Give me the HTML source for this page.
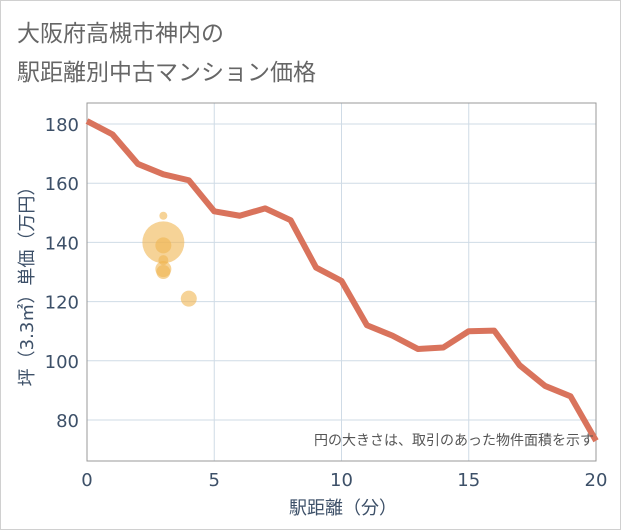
<!DOCTYPE html>
<html><head><meta charset="utf-8"><style>
body{margin:0;background:#fff;font-family:"DejaVu Sans","Noto Sans CJK JP",sans-serif;}
#wrap{position:relative;width:619px;height:528px;border:1px solid #d0d0d0;background:#fff;}
.title{position:absolute;left:16px;font-size:23px;color:#666;font-family:"Liberation Sans","Noto Sans CJK JP",sans-serif;}
</style></head><body>
<div id="wrap">
<div class="title" style="top:13px">大阪府高槻市神内の</div>
<div class="title" style="top:52px">駅距離別中古マンション価格</div>
<svg id="chart" width="621" height="530" style="position:absolute;left:-1px;top:-1px"></svg>
</div>
<script>
const lineX=[0,1,2,3,4,5,6,7,8,9,10,11,12,13,14,15,16,17,18,19,20];
const lineY=[181,176.5,166.5,163,161,150.5,149,151.5,147.5,131.5,127,112,108.5,104,104.5,110,110.2,98.5,91.5,88,73];
const bubbleX=[3,3,3,3,3,3,4];
const bubbleY=[149,140,139,134,131,130,121];
const bubbleR=[4,21,8,5,8,7,8];
const xTicks=[0,5,10,15,20];
const yTicks=[80,100,120,140,160,180];
const L=87,R=596,T=103,B=461;
const sx=v=>L+v*(R-L)/20;
const sy=v=>124+(180-v)*(420-124)/100;
const svg=document.getElementById('chart');
const NS='http://www.w3.org/2000/svg';
function mk(t,a){const e=document.createElementNS(NS,t);for(const k in a)e.setAttribute(k,a[k]);svg.appendChild(e);return e;}
yTicks.forEach(v=>{
 const g=mk('line',{x1:L,x2:R,y1:sy(v),y2:sy(v),stroke:'#cfdbe6','stroke-width':1});
 
 
 const t=mk('text',{x:L-8,y:sy(v)+7,'text-anchor':'end','font-size':18,fill:'#3d5068'});
 t.textContent=v;
 
 
});
xTicks.forEach(v=>{
 const g=mk('line',{x1:sx(v),x2:sx(v),y1:T,y2:B,stroke:'#cfdbe6','stroke-width':1});
 
 
 const t=mk('text',{x:sx(v),y:B+25,'text-anchor':'middle','font-size':18,fill:'#3d5068'});
 t.textContent=v;
 
 
});
const fr=mk('rect',{x:L,y:T,width:R-L,height:B-T,fill:'none',stroke:'#999','stroke-width':1});


bubbleX.forEach((x,i)=>{
 const c=mk('circle',{cx:sx(x),cy:sy(bubbleY[i]),r:bubbleR[i],fill:'#f0b552','fill-opacity':0.6});
 
 
});
const p=mk('polyline',{points:lineX.map((x,i)=>sx(x)+','+sy(lineY[i])).join(' '),fill:'none',stroke:'#d9735c','stroke-width':6,'stroke-linejoin':'round'});


const n=mk('text',{x:594,y:445,'text-anchor':'end','font-size':14,fill:'#555'});
n.textContent='円の大きさは、取引のあった物件面積を示す';


const xt=mk('text',{x:343,y:514,'text-anchor':'middle','font-size':18,fill:'#3d5068'});
xt.textContent='駅距離（分）';


const yt=mk('text',{x:0,y:0,'text-anchor':'middle','font-size':18,fill:'#3d5068',transform:'translate(33,282) rotate(-90)'});
yt.textContent='坪（3.3㎡）単価（万円）';


</script>
</body></html>
